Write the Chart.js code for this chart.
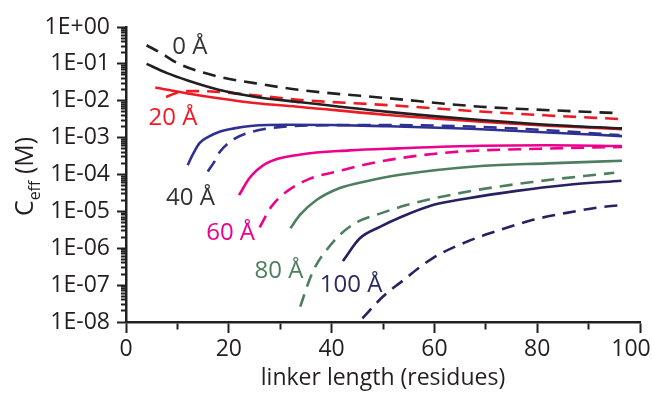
<!DOCTYPE html>
<html>
<head>
<meta charset="utf-8">
<script src="https://cdn.jsdelivr.net/npm/chart.js@4.4.0/dist/chart.umd.min.js"></script>
<style>
  html, body { margin: 0; padding: 0; background: #fff; }
  #wrap { width: 652px; height: 394px; }
</style>
</head>
<body>
<div id="wrap"><canvas id="chart" width="652" height="394"></canvas></div>
<script>
// linker length (residues) vs C_eff (M)
const x0Solid = [4, 8, 12, 18, 25, 34, 51, 69, 82, 96.5];
const c0Solid = [1.0e-1, 5.6e-2, 3.55e-2, 2.0e-2, 1.29e-2, 9.1e-3, 5.0e-3, 3.0e-3, 2.24e-3, 1.78e-3];
const x0Dash = [4, 7, 10, 18, 25, 34, 51, 69, 83, 96];
const c0Dash = [3.2e-1, 1.9e-1, 1.05e-1, 4.5e-2, 3.0e-2, 1.95e-2, 1.17e-2, 6.9e-3, 5.5e-3, 4.6e-3];

const x20Solid = [5.7, 12, 18, 25, 34, 51, 69, 82, 96.5];
const c20Solid = [2.3e-2, 1.58e-2, 1.17e-2, 8.7e-3, 6.8e-3, 4.1e-3, 2.7e-3, 2.1e-3, 1.7e-3];
const x20Dash = [7.8, 9.5, 11.5, 15, 18, 25, 34, 51, 69, 82, 96];
const c20Dash = [1.26e-2, 1.58e-2, 1.82e-2, 1.82e-2, 1.74e-2, 1.41e-2, 1.05e-2, 7.6e-3, 5.1e-3, 4.0e-3, 3.2e-3];

const x40Solid = [12, 13, 14.3, 16, 18.2, 21, 24.7, 31, 40, 50, 67, 82, 96.5];
const c40Solid = [1.8e-4, 3.5e-4, 7.1e-4, 1.05e-3, 1.45e-3, 1.78e-3, 2.1e-3, 2.24e-3, 2.2e-3, 2.05e-3, 1.74e-3, 1.38e-3, 1.1e-3];
const x40Dash = [15.9, 17.2, 18.2, 21, 24.6, 29.3, 36, 50, 67, 82, 96];
const c40Dash = [1.2e-4, 2.24e-4, 4.0e-4, 9.1e-4, 1.45e-3, 1.9e-3, 2.14e-3, 2.2e-3, 2.0e-3, 1.58e-3, 1.17e-3];

const x60Solid = [22, 24, 27.3, 34, 43.5, 53, 69, 82, 96.5];
const c60Solid = [2.75e-5, 7.9e-5, 2.0e-4, 3.5e-4, 4.5e-4, 5.1e-4, 6.0e-4, 6.2e-4, 5.9e-4];
const x60Dash = [26, 28.3, 31.2, 35.7, 41.6, 46.8, 55, 65, 80.5, 96.5];
const c60Dash = [3.7e-6, 1.35e-5, 3.4e-5, 7.6e-5, 1.26e-4, 1.9e-4, 3.0e-4, 4.2e-4, 5.0e-4, 5.6e-4];

const x80Solid = [32, 33.8, 37, 41.6, 46.8, 53.3, 69, 82, 96.5];
const c80Solid = [3.5e-6, 7.9e-6, 2.0e-5, 4.3e-5, 6.6e-5, 9.8e-5, 1.7e-4, 2.0e-4, 2.35e-4];
const x80Dash = [33.9, 35.7, 37, 39, 41.6, 44.8, 49.4, 54.6, 66.3, 79.2, 95];
const c80Dash = [2.6e-8, 1.4e-7, 3.5e-7, 8.9e-7, 2.3e-6, 5.0e-6, 8.7e-6, 1.48e-5, 3.4e-5, 6.3e-5, 1.12e-4];

const x100Solid = [42.2, 45.5, 49.4, 53.3, 59.7, 66.3, 76, 85.7, 96.4];
const c100Solid = [4.5e-7, 1.86e-6, 3.8e-6, 6.8e-6, 1.48e-5, 2.24e-5, 3.6e-5, 5.2e-5, 6.8e-5];
const x100Dash = [46, 50, 53.3, 59.7, 66.3, 72.7, 79.2, 85.7, 92.2, 96.4];
const c100Dash = [1.26e-8, 4.9e-8, 1.15e-7, 5.4e-7, 1.5e-6, 3.1e-6, 5.9e-6, 9.1e-6, 1.29e-5, 1.48e-5];

// tick labels
const yTickLabels = ['1E-08', '1E-07', '1E-06', '1E-05', '1E-04', '1E-03', '1E-02', '1E-01', '1E+00'];
const xTickLabels = ['0', '20', '40', '60', '80', '100'];

// curve labels, anchored in data coordinates (left end of text, baseline)
const labelTexts = ['0 Å', '20 Å', '40 Å', '60 Å', '80 Å', '100 Å'];
const labelX = [9.0, 4.4, 7.8, 15.6, 25.0, 37.7];
const labelY = [1.85e-1, 2.2e-3, 1.49e-5, 1.67e-6, 1.53e-7, 6.6e-8];
const labelColors = ['#333333', '#ed1c24', '#333333', '#ec008c', '#4d7f5e', '#2b2a60'];

const BLACK = '#231f20';
const FONT = "'Open Sans', 'DejaVu Sans', sans-serif";

function toPoints(xs, ys) {
    return xs.map((x, i) => ({x: x, y: ys[i]}));
}

function makeSet(label, xs, ys, color, dashed) {
    return {
        label: label,
        data: toPoints(xs, ys),
        borderColor: color,
        backgroundColor: color,
        borderWidth: 2.6,
        borderDash: dashed ? [13, 8] : [],
        pointRadius: 0,
        fill: false,
        cubicInterpolationMode: 'monotone'
    };
}

function isDecade(v) {
    const l = Math.log10(v);
    return Math.abs(l - Math.round(l)) < 1e-6;
}

// y-axis title with subscript, drawn by hand
const yTitlePlugin = {
    id: 'yTitle',
    afterDraw(chart) {
        const ctx = chart.ctx;
        const area = chart.chartArea;
        ctx.save();
        ctx.fillStyle = BLACK;
        ctx.textBaseline = 'alphabetic';
        ctx.translate(33, (area.top + area.bottom) / 2 + 2);
        ctx.rotate(-Math.PI / 2);
        const big = '25px ' + FONT;
        const small = '16px ' + FONT;
        ctx.font = big;
        const wC = ctx.measureText('C').width;
        const wM = ctx.measureText(' (M)').width;
        ctx.font = small;
        const wSub = ctx.measureText('eff').width;
        let x = -(wC + wSub + wM) / 2;
        ctx.font = big;
        ctx.fillText('C', x, 0);
        x += wC;
        ctx.font = small;
        ctx.fillText('eff', x, 7);
        x += wSub;
        ctx.font = big;
        ctx.fillText(' (M)', x, 0);
        ctx.restore();
    }
};

// curve labels
const curveLabelPlugin = {
    id: 'curveLabels',
    afterDatasetsDraw(chart) {
        const ctx = chart.ctx;
        const xs = chart.scales.x;
        const ys = chart.scales.y;
        ctx.save();
        ctx.font = '24px ' + FONT;
        ctx.textAlign = 'left';
        ctx.textBaseline = 'alphabetic';
        labelTexts.forEach((t, i) => {
            ctx.fillStyle = labelColors[i];
            ctx.fillText(t, xs.getPixelForValue(labelX[i]), ys.getPixelForValue(labelY[i]));
        });
        ctx.restore();
    }
};

Chart.defaults.font.family = FONT;
Chart.defaults.color = BLACK;

const config = {
    type: 'line',
    data: {
        datasets: [
            makeSet('0 Å dashed', x0Dash, c0Dash, '#231f20', true),
            makeSet('0 Å', x0Solid, c0Solid, '#231f20', false),
            makeSet('20 Å dashed', x20Dash, c20Dash, '#ed1c24', true),
            makeSet('20 Å', x20Solid, c20Solid, '#ed1c24', false),
            makeSet('40 Å dashed', x40Dash, c40Dash, '#2e3192', true),
            makeSet('40 Å', x40Solid, c40Solid, '#2e3192', false),
            makeSet('60 Å dashed', x60Dash, c60Dash, '#ec008c', true),
            makeSet('60 Å', x60Solid, c60Solid, '#ec008c', false),
            makeSet('80 Å dashed', x80Dash, c80Dash, '#4d7f5e', true),
            makeSet('80 Å', x80Solid, c80Solid, '#4d7f5e', false),
            makeSet('100 Å dashed', x100Dash, c100Dash, '#262262', true),
            makeSet('100 Å', x100Solid, c100Solid, '#262262', false)
        ]
    },
    options: {
        responsive: false,
        animation: false,
        layout: { padding: { top: 27, right: 12, bottom: 0, left: 0 } },
        plugins: {
            legend: { display: false },
            tooltip: { enabled: false }
        },
        scales: {
            x: {
                type: 'linear',
                min: 0,
                max: 100,
                afterFit(scale) {
                    scale.height = 72;
                    scale.paddingRight = 0;
                },
                border: { display: true, color: BLACK, width: 2.5 },
                grid: {
                    drawOnChartArea: false,
                    drawTicks: true,
                    tickLength: 11,
                    tickWidth: 2,
                    tickColor: BLACK,
                    tickBorderDash: (ctx) => (ctx.tick && ctx.tick.value % 20 !== 0) ? [6, 50] : []
                },
                ticks: {
                    stepSize: 10,
                    autoSkip: false,
                    maxRotation: 0,
                    padding: 3,
                    color: BLACK,
                    font: { size: 23 },
                    callback: (v) => {
                        if (v % 20 !== 0) return '';
                        const s = xTickLabels[v / 20];
                        // last label sits inside the canvas edge, as in the figure
                        return v === 100 ? s + '   ' : s;
                    }
                },
                title: {
                    display: true,
                    text: 'linker length (residues)',
                    color: BLACK,
                    font: { size: 23 },
                    padding: { top: 0, bottom: 2 }
                }
            },
            y: {
                type: 'logarithmic',
                min: 1e-8,
                max: 1,
                afterFit(scale) {
                    scale.width = 126;
                },
                // one tick at every 1..9 x 10^n, like the figure's log ladder
                afterBuildTicks(scale) {
                    const ticks = [];
                    for (let e = -8; e < 0; e++) {
                        for (let m = 1; m <= 9; m++) {
                            ticks.push({ value: m * Math.pow(10, e) });
                        }
                    }
                    ticks.push({ value: 1 });
                    scale.ticks = ticks;
                },
                border: { display: true, color: BLACK, width: 2.5 },
                grid: {
                    drawOnChartArea: false,
                    drawTicks: true,
                    tickLength: 9,
                    tickWidth: 2,
                    tickColor: BLACK,
                    tickBorderDash: (ctx) => (ctx.tick && !isDecade(ctx.tick.value)) ? [0, 4, 5, 50] : []
                },
                ticks: {
                    autoSkip: false,
                    padding: 7,
                    color: BLACK,
                    font: { size: 23 },
                    callback: (v) => {
                        if (!isDecade(v)) return '';
                        return yTickLabels[Math.round(Math.log10(v)) + 8];
                    }
                }
            }
        }
    },
    plugins: [yTitlePlugin, curveLabelPlugin]
};

new Chart(document.getElementById('chart').getContext('2d'), config);
</script>
</body>
</html>
